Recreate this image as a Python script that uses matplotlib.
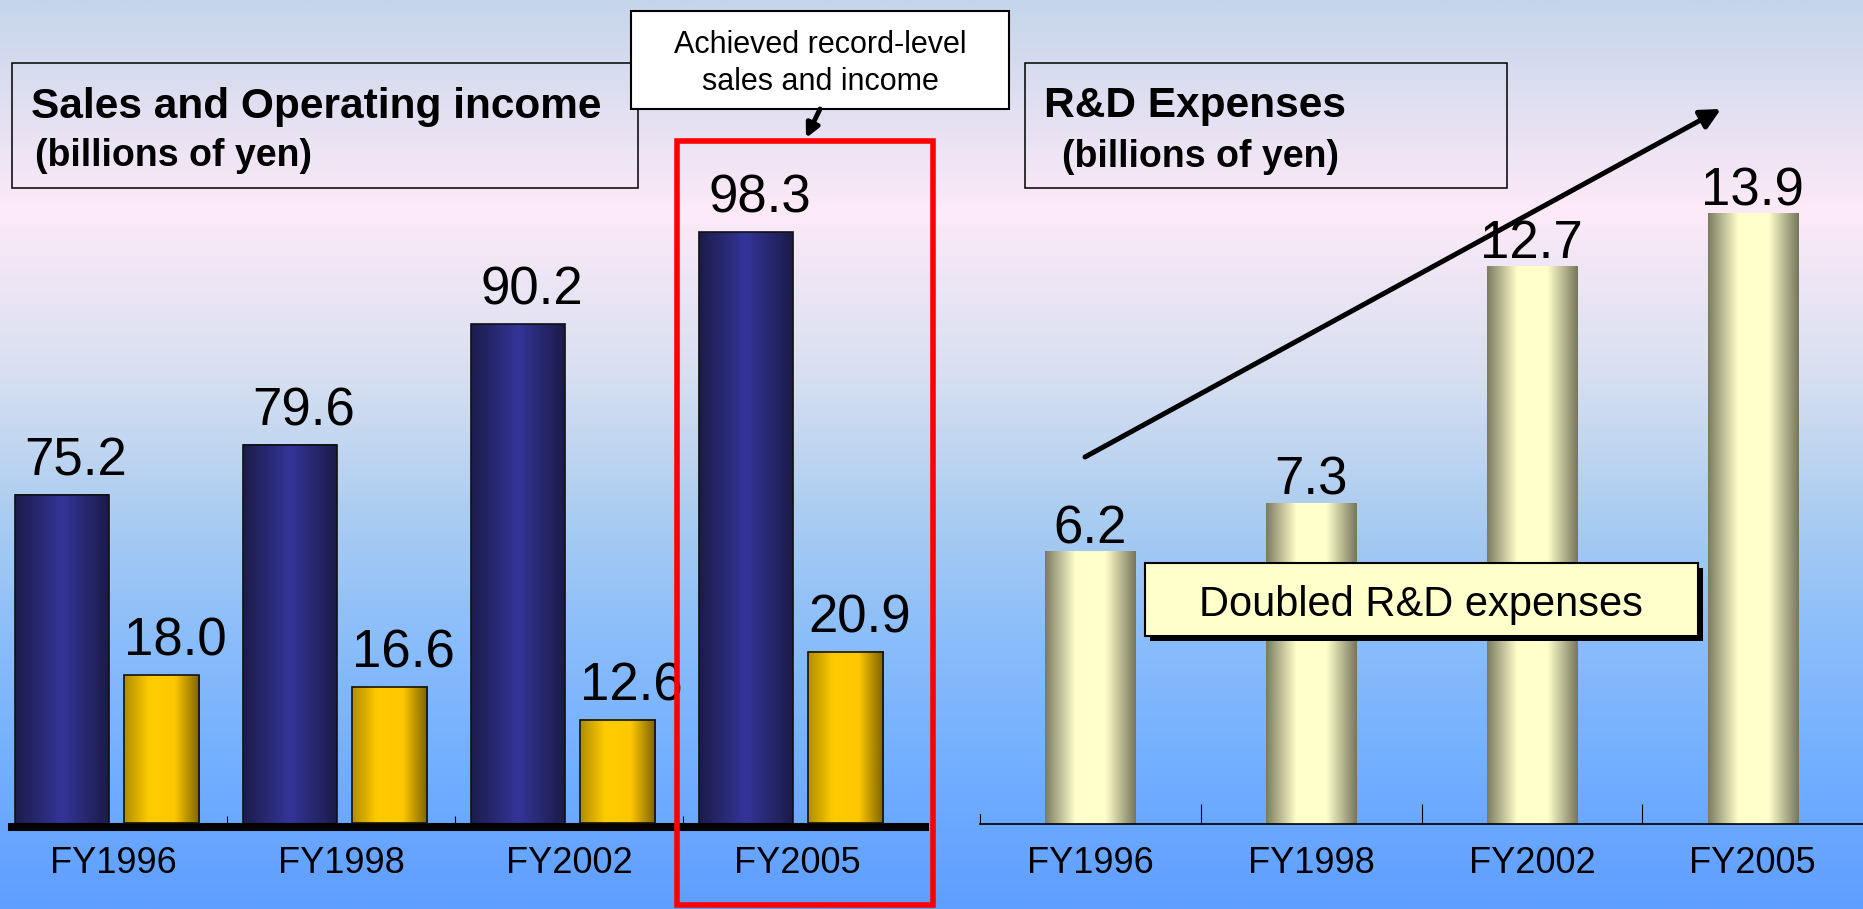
import numpy as np
import matplotlib
matplotlib.use("Agg")
import matplotlib.pyplot as plt
from matplotlib.colors import LinearSegmentedColormap
from matplotlib.patches import Rectangle

plt.rcParams["font.family"] = ["Liberation Sans", "DejaVu Sans"]

# ── data ─────────────────────────────────────────────────────────────────────
years = ["FY1996", "FY1998", "FY2002", "FY2005"]
sales = [75.2, 79.6, 90.2, 98.3]
op_income = [18.0, 16.6, 12.6, 20.9]
rd_expenses = [6.2, 7.3, 12.7, 13.9]

W, H = 1863, 909
fig = plt.figure(figsize=(W / 100, H / 100), dpi=100)


def px_rect(x0, y_top, x1, y_bot):
    # pixel box (origin top-left) -> figure fraction
    return [x0 / W, 1 - y_bot / H, (x1 - x0) / W, (y_bot - y_top) / H]


def shade_bars(ax, bars, stops):
    # horizontal "cylinder" shading drawn inside each bar rectangle
    cmap = LinearSegmentedColormap.from_list("bar", stops)
    grad = np.linspace(0, 1, 256).reshape(1, -1)
    for r in bars:
        x, y = r.get_xy()
        ax.imshow(grad, extent=[x, x + r.get_width(), y, y + r.get_height()],
                  aspect="auto", cmap=cmap, origin="lower", zorder=2,
                  interpolation="bilinear")


# ── background gradient ─────────────────────────────────────────────────────
bg = fig.add_axes([0, 0, 1, 1], zorder=0)
bg_stops = [(0.0, "#c5d5ea"), (210 / H, "#fdeaf8"), (380 / H, "#d6dff0"),
            (520 / H, "#a9ccf1"), (640 / H, "#8abdfa"), (760 / H, "#74b0ff"),
            (1.0, "#5e9eff")]
bg_cmap = LinearSegmentedColormap.from_list("bg", bg_stops)
bg.imshow(np.linspace(0, 1, 512).reshape(-1, 1), aspect="auto", cmap=bg_cmap,
          extent=[0, 1, 1, 0], interpolation="bilinear")
bg.set_xlim(0, 1)
bg.set_ylim(1, 0)
bg.axis("off")

# ── left chart: sales and operating income ──────────────────────────────────
x = np.arange(len(years))
ax1 = fig.add_axes(px_rect(12, 100, 925, 827), zorder=1)
ax1.patch.set_visible(False)
ax2 = ax1.twinx()
ax2.patch.set_visible(False)

b_sales = ax1.bar(x - 0.224, sales, width=0.412, facecolor="none",
                  edgecolor="#111111", linewidth=1.2, zorder=3)
shade_bars(ax1, b_sales, ["#1b1b4a", "#343499", "#1b1b48"])
b_inc = ax2.bar(x + 0.212, op_income, width=0.33, facecolor="none",
                edgecolor="#111111", linewidth=1.2, zorder=3)
shade_bars(ax2, b_inc, ["#b08c00", "#ffcc00", "#ffc800", "#7a6200"])

for xi, v in zip(x - 0.224, sales):
    ax1.annotate(f"{v:.1f}", (xi, v), xytext=(10, 14), textcoords="offset points",
                 ha="center", va="baseline", fontsize=38, annotation_clip=False)
for xi, v in zip(x + 0.212, op_income):
    ax2.annotate(f"{v:.1f}", (xi, v), xytext=(10, 14), textcoords="offset points",
                 ha="center", va="baseline", fontsize=38, annotation_clip=False)

ax1.set_xlim(-0.443, 3.561)
ax1.set_ylim(45.95, 109.95)
ax2.set_ylim(-0.49, 88.17)
for s in ax1.spines.values():
    s.set_visible(False)
for name, s in ax2.spines.items():
    s.set_visible(name == "bottom")
ax2.spines["bottom"].set_linewidth(5.8)
ax2.set_yticks([])
ax1.set_yticks([])
ax1.set_xticks(x)
ax1.set_xticklabels(years, fontsize=26)
ax1.set_xticks([0.5, 1.5, 2.5], minor=True)
ax1.tick_params(axis="x", which="major", length=0, pad=14)
ax1.tick_params(axis="x", which="minor", direction="in", length=8, width=0.8)

# ── right chart: R&D expenses ───────────────────────────────────────────────
ax3 = fig.add_axes(px_rect(980, 100, 1863, 824), zorder=1)
ax3.patch.set_visible(False)
b_rd = ax3.bar(x, rd_expenses, width=0.408, facecolor="none", edgecolor="none",
               zorder=3)
shade_bars(ax3, b_rd, ["#7b7b60", "#ffffcc", "#ffffcc", "#76765c"])
for xi, v in zip(x, rd_expenses):
    ax3.annotate(f"{v:.1f}", (xi, v), xytext=(0, 6), textcoords="offset points",
                 ha="center", va="baseline", fontsize=38, annotation_clip=False)
ax3.set_xlim(-0.5, 3.5)
ax3.set_ylim(0, 16.48)
for name, s in ax3.spines.items():
    s.set_visible(name in ("bottom", "left"))
ax3.spines["bottom"].set_linewidth(1.2)
ax3.spines["left"].set_linewidth(0.8)
ax3.spines["left"].set_bounds(0, 0.23)
ax3.set_yticks([])
ax3.set_xticks(x)
ax3.set_xticklabels(years, fontsize=26)
ax3.set_xticks([0.5, 1.5, 2.5], minor=True)
ax3.tick_params(axis="x", which="major", length=0, pad=16)
ax3.tick_params(axis="x", which="minor", direction="in", length=14.4, width=0.8)

# ── overlay: titles, callouts, arrows ───────────────────────────────────────
ov = fig.add_axes([0, 0, 1, 1], zorder=10)
ov.set_xlim(0, W)
ov.set_ylim(H, 0)
ov.set_facecolor("none")
ov.axis("off")

ov.add_patch(Rectangle((12, 63), 626, 125, fill=False, ec="black", lw=1.1))
ov.text(31, 118, "Sales and Operating income", fontsize=30.5, fontweight="bold",
        va="baseline")
ov.text(35, 166, "(billions of yen)", fontsize=27, fontweight="bold", va="baseline")

ov.add_patch(Rectangle((1025, 63), 482, 125, fill=False, ec="black", lw=1.1))
ov.text(1044, 117, "R&D Expenses", fontsize=30.5, fontweight="bold", va="baseline")
ov.text(1062, 167, "(billions of yen)", fontsize=27, fontweight="bold", va="baseline")

# record-level callout
ov.add_patch(Rectangle((631, 11), 378, 98, fc="white", ec="black", lw=1.5))
ov.text(820, 53, "Achieved record-level", fontsize=22, ha="center", va="baseline")
ov.text(820, 90, "sales and income", fontsize=22, ha="center", va="baseline")
ov.annotate("", xy=(806, 138), xytext=(820, 109),
            arrowprops=dict(arrowstyle="-|>", lw=3.5, color="black",
                            mutation_scale=20, shrinkA=0, shrinkB=0))
ov.add_patch(Rectangle((676.5, 140.5), 256.5, 764, fill=False, ec="#ff0000", lw=4))

# R&D growth arrow and note
ov.annotate("", xy=(1721, 109), xytext=(1085, 457),
            arrowprops=dict(arrowstyle="-|>", lw=3.6, color="black",
                            mutation_scale=30, shrinkA=0, shrinkB=0))
ov.add_patch(Rectangle((1150, 568), 553, 73, fc="black", ec="none"))
ov.add_patch(Rectangle((1145, 563), 553, 73, fc="#ffffcc", ec="black", lw=1.5))
ov.text(1421, 616, "Doubled R&D expenses", fontsize=30, ha="center", va="baseline")

fig.savefig("out.png", dpi=100)
plt.close(fig)
